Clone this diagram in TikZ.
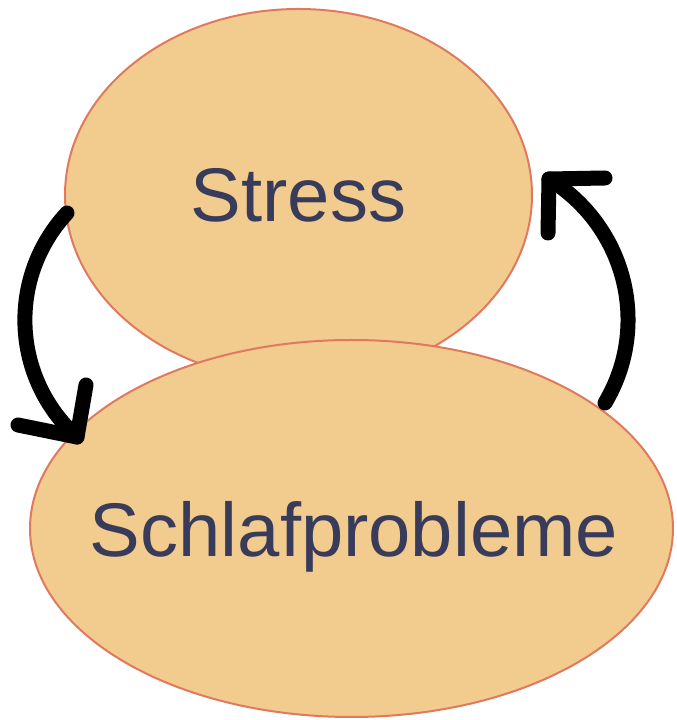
\documentclass[tikz,border=0pt]{standalone}
\usepackage{fontspec}
\setmainfont{Liberation Sans}
\usetikzlibrary{shapes.geometric}
\definecolor{blobfill}{RGB}{242,203,143}
\definecolor{blobline}{RGB}{224,122,95}
\definecolor{txtcol}{RGB}{56,60,90}
\begin{document}
\begin{tikzpicture}[x=1pt,y=1pt,
  blob/.style={ellipse,fill=blobfill,draw=blobline,line width=2pt,inner sep=0pt},
  lbl/.style={text=txtcol,font=\fontsize{76}{90}\selectfont,inner sep=0pt,text depth=0pt},
  loop/.style={line width=15pt,line cap=round,line join=round,black}]
\fill[white] (0,0) rectangle (677,720);
\useasboundingbox (0,0) rectangle (677,720);
\node[blob,minimum width=467pt,minimum height=372pt] (st) at (298.5,525) {};
\node[blob,minimum width=643pt,minimum height=377pt] (sp) at (351.5,191.5) {};
\node[lbl] (tst) at (st.center) {Stress};
\node[lbl] (tsp) at ([xshift=2.5pt]sp.center) {Schlafprobleme};
% left connector: Stress -> Schlafprobleme
\coordinate (l0) at (67,507);
\coordinate (l3) at (77,283);
\coordinate (la) at (18,295);
\coordinate (lb) at (86,335);
\draw[loop] (l0) .. controls (7.2,442.5) and (11.6,342) .. (l3);
\draw[loop] (la) -- (l3) -- (lb);
% right connector: Schlafprobleme -> Stress
\coordinate (r0) at (605,317);
\coordinate (r3) at (549,541);
\coordinate (ra) at (605,542);
\coordinate (rb) at (548,487);
\draw[loop] (r0) .. controls (650.8,393.8) and (626.3,493.2) .. (r3);
\draw[loop] (ra) -- (r3) -- (rb);
\end{tikzpicture}
\end{document}
